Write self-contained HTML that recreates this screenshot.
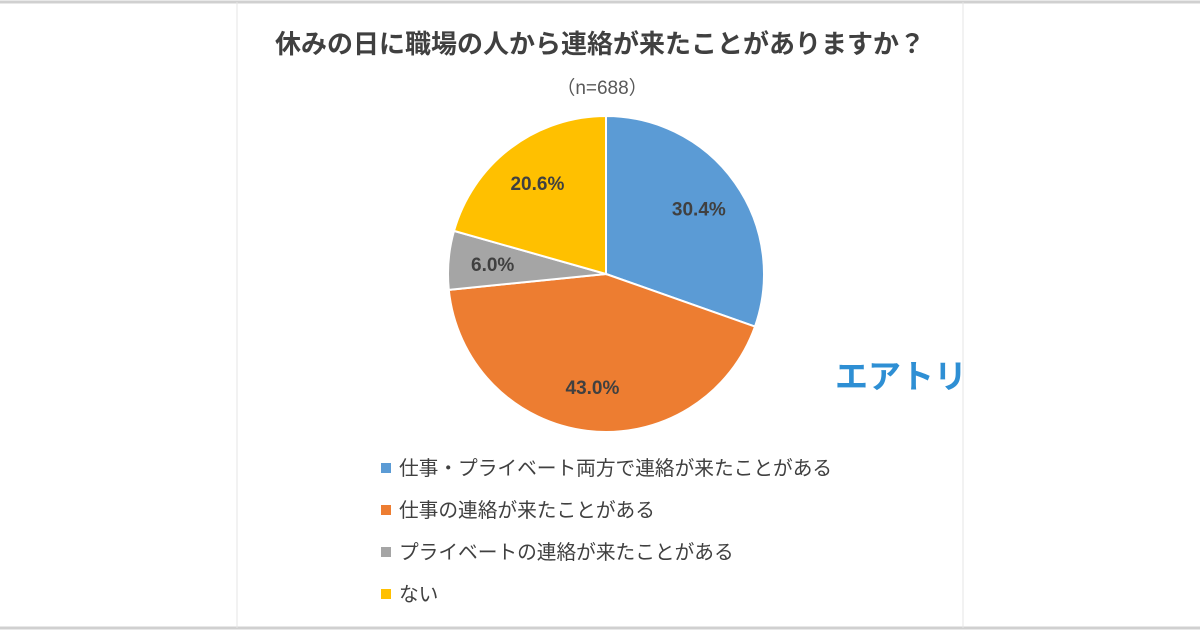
<!DOCTYPE html>
<html><head><meta charset="utf-8"><style>
body{margin:0;width:1200px;height:630px;background:#fff;overflow:hidden;font-family:"Liberation Sans","Noto Sans CJK JP",sans-serif;}
</style></head><body>
<svg width="1200" height="630" id="svg">
<line x1="0" y1="2" x2="1200" y2="2" stroke="#d0d0d0" stroke-width="3"/>
<line x1="0" y1="628" x2="1200" y2="628" stroke="#d0d0d0" stroke-width="3"/>
<line x1="237" y1="2" x2="237" y2="628" stroke="#e4e4e4" stroke-width="1"/>
<line x1="963" y1="2" x2="963" y2="628" stroke="#e4e4e4" stroke-width="1"/>
<text x="600" y="53" text-anchor="middle" font-size="26" font-weight="bold" fill="#404040">休みの日に職場の人から連絡が来たことがありますか？</text>
<text x="602" y="94" text-anchor="middle" font-size="19" fill="#595959">（n=688）</text>
<text x="901" y="388" text-anchor="middle" font-size="33" font-weight="bold" fill="#2e8fd4">エアトリ</text>
<g id="pie"></g>
<g id="legend"></g>
</svg>
<script>
const categories=["仕事・プライベート両方で連絡が来たことがある","仕事の連絡が来たことがある","プライベートの連絡が来たことがある","ない"];
const values=[30.4,43.0,6.0,20.6];
const colors=["#5b9bd5","#ed7d31","#a5a5a5","#ffc000"];
const NS="http://www.w3.org/2000/svg";
const cx=606,cy=274,r=158;
const pie=document.getElementById('pie'),leg=document.getElementById('legend');
const total=values.reduce((a,b)=>a+b,0);
let a0=0;
values.forEach((v,i)=>{
 const a1=a0+v/total*2*Math.PI;
 const p=(a)=>[cx+r*Math.sin(a),cy-r*Math.cos(a)];
 const [x0,y0]=p(a0),[x1,y1]=p(a1);
 const path=document.createElementNS(NS,'path');
 path.setAttribute('d',`M${cx},${cy}L${x0},${y0}A${r},${r} 0 ${a1-a0>Math.PI?1:0} 1 ${x1},${y1}Z`);
 path.setAttribute('fill',colors[i]);path.setAttribute('stroke','#fff');path.setAttribute('stroke-width','2');
 
 
 pie.appendChild(path);
 const am=(a0+a1)/2,lr=r*0.72;
 const t=document.createElementNS(NS,'text');
 t.setAttribute('x',cx+lr*Math.sin(am));t.setAttribute('y',cy-lr*Math.cos(am)+7);
 t.setAttribute('text-anchor','middle');t.setAttribute('font-size','19');t.setAttribute('font-weight','bold');t.setAttribute('fill','#404040');
 t.textContent=v.toFixed(1)+'%';
 
 
 pie.appendChild(t);
 a0=a1;
 const y=468+i*42;
 const g=document.createElementNS(NS,'g');
 
 
 const s=document.createElementNS(NS,'rect');
 s.setAttribute('x',381);s.setAttribute('y',y-5);s.setAttribute('width',10);s.setAttribute('height',10);s.setAttribute('fill',colors[i]);
 const lt=document.createElementNS(NS,'text');
 lt.setAttribute('x',399);lt.setAttribute('y',y+7);lt.setAttribute('font-size','19.7');lt.setAttribute('fill','#404040');
 lt.textContent=categories[i];
 g.appendChild(s);g.appendChild(lt);leg.appendChild(g);
});
</script>
</body></html>
